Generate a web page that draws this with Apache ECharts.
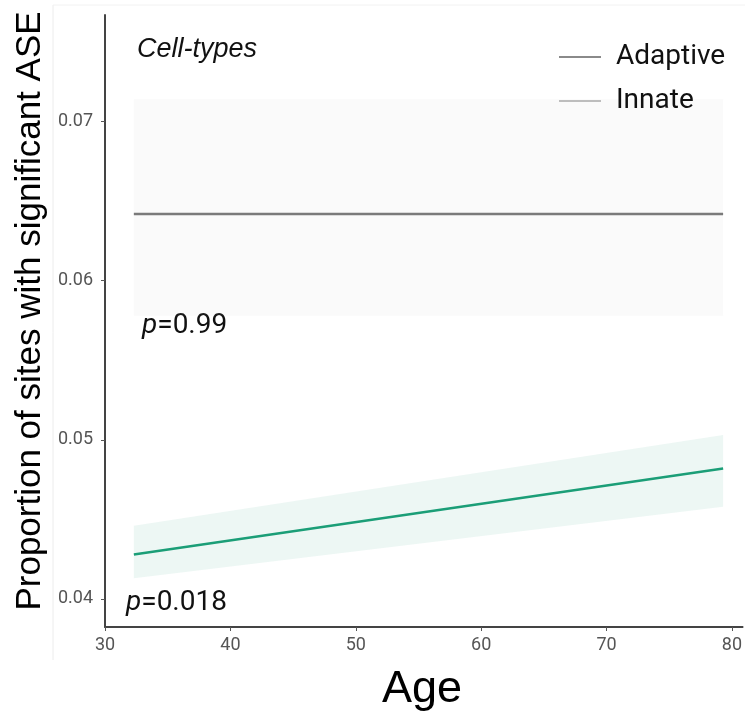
<!DOCTYPE html>
<html><head><meta charset="utf-8">
<script src="https://cdn.jsdelivr.net/npm/echarts@6/dist/echarts.min.js"></script>
<style>html,body{margin:0;padding:0;background:#fff}#c{width:745px;height:716px}</style>
</head><body><div id="c"></div>
<script>
const ages = [32.3, 79.3];
const adaptiveFit = [0.0642, 0.0642];
const adaptiveLow = [0.0578, 0.0578];
const adaptiveHigh = [0.0714, 0.0714];
const innateFit = [0.0428, 0.0482];
const innateLow = [0.0413, 0.0458];
const innateHigh = [0.0446, 0.0503];
const xTicks = [30, 40, 50, 60, 70, 80];
const yTicks = [0.04, 0.05, 0.06, 0.07];

const pts = (ys) => ages.map((a, i) => [a, ys[i]]);

function bandSeries(lo, hi, color) {
  return {
    type: 'custom', silent: true, z: 1,
    data: [[ages[0], lo[0]]],
    renderItem: function (params, api) {
      const top = ages.map((a, i) => api.coord([a, hi[i]]));
      const bot = ages.map((a, i) => api.coord([a, lo[i]])).reverse();
      return {type: 'polygon', shape: {points: top.concat(bot)}, style: {fill: color}};
    }
  };
}

const chart = echarts.init(document.getElementById('c'), null, {renderer: 'canvas'});
chart.setOption({
  animation: false,
  grid: {left: 105, right: 1, top: 15, bottom: 89},
  xAxis: {
    type: 'value', min: 30, max: 80.85,
    axisLine: {lineStyle: {color: '#444', width: 2}},
    axisTick: {show: true, length: 4, customValues: xTicks, lineStyle: {color: '#555'}},
    axisLabel: {customValues: xTicks, color: '#555', fontSize: 18, fontFamily: 'Roboto', margin: 9},
    splitLine: {show: false}
  },
  yAxis: {
    type: 'value', min: 0.03824, max: 0.0767,
    axisLine: {show: true, lineStyle: {color: '#444', width: 2}},
    axisTick: {show: true, length: 4, customValues: yTicks, lineStyle: {color: '#555'}},
    axisLabel: {customValues: yTicks, color: '#555', fontSize: 18, fontFamily: 'Roboto', margin: 12,
      formatter: v => v.toFixed(2)},
    splitLine: {show: false}
  },
  legend: {
    orient: 'vertical', left: 554, top: 38, itemWidth: 42, itemHeight: 2, itemGap: 16,
    icon: 'rect',
    textStyle: {fontSize: 28, fontFamily: 'Roboto', color: '#111', padding: [0, 0, 0, 10]},
    data: [
      {name: 'Adaptive', itemStyle: {color: '#8a8a8a'}},
      {name: 'Innate', itemStyle: {color: '#bdbdbd'}}
    ]
  },
  series: [
    bandSeries(adaptiveLow, adaptiveHigh, 'rgba(170,170,170,0.06)'),
    bandSeries(innateLow, innateHigh, 'rgba(27,158,119,0.08)'),
    {type: 'line', name: 'Adaptive', data: pts(adaptiveFit), symbol: 'none', z: 3,
      itemStyle: {color: '#888'}, lineStyle: {color: '#7a7a7a', width: 2.5}},
    {type: 'line', name: 'Innate', data: pts(innateFit), symbol: 'none', z: 3,
      itemStyle: {color: '#1b9e77'}, lineStyle: {color: '#1b9e77', width: 2.5}}
  ],
  graphic: [
    {type: 'line', shape: {x1: 53, y1: 5, x2: 53, y2: 660}, style: {stroke: '#ececec', lineWidth: 1}, silent: true},
    {type: 'line', shape: {x1: 53, y1: 5, x2: 745, y2: 5}, style: {stroke: '#f2f2f2', lineWidth: 1}, silent: true},
    {type: 'text', x: 30, y: 311, rotation: Math.PI / 2,
      style: {text: 'Proportion of sites with significant ASE', fontSize: 35, fontFamily: 'Liberation Sans',
        fill: '#000', align: 'center', verticalAlign: 'middle'}},
    {type: 'text', x: 422, y: 690,
      style: {text: 'Age', fontSize: 45, fontFamily: 'Liberation Sans', fill: '#000', align: 'center', verticalAlign: 'middle'}},
    {type: 'text', x: 137, y: 49,
      style: {text: 'Cell-types', fontSize: 27, fontStyle: 'italic', fontFamily: 'Liberation Sans', fill: '#111', align: 'left', verticalAlign: 'middle'}},
    {type: 'text', x: 142, y: 326,
      style: {text: '{i|p}=0.99', fontSize: 28, fontFamily: 'Roboto', fill: '#111', align: 'left', verticalAlign: 'middle',
        rich: {i: {fontStyle: 'italic', fontSize: 28, fontFamily: 'Roboto', fill: '#111'}}}},
    {type: 'text', x: 126, y: 603,
      style: {text: '{i|p}=0.018', fontSize: 28, fontFamily: 'Roboto', fill: '#111', align: 'left', verticalAlign: 'middle',
        rich: {i: {fontStyle: 'italic', fontSize: 28, fontFamily: 'Roboto', fill: '#111'}}}}
  ]
});
</script>
</body></html>
